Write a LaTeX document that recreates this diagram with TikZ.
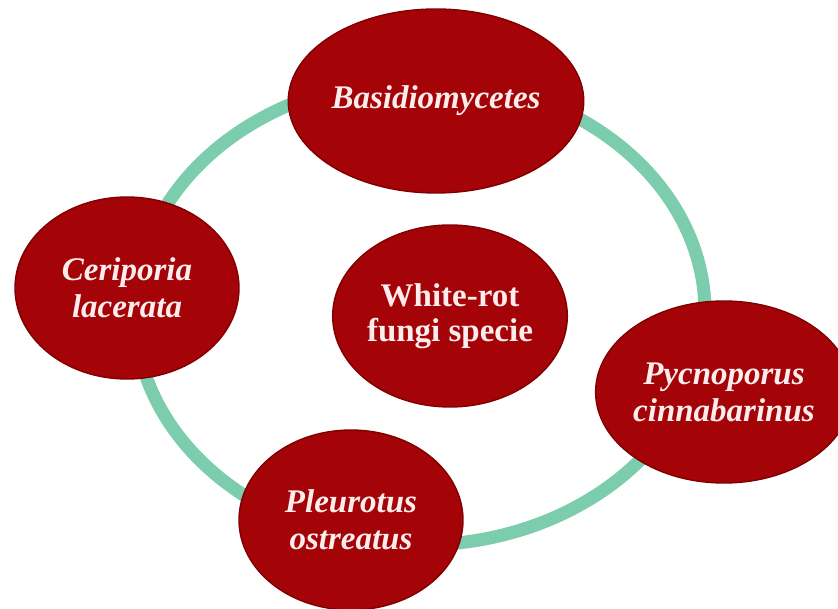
\documentclass[tikz,border=0pt]{standalone}
\usepackage{fontspec}
\setmainfont{Liberation Serif}
\usetikzlibrary{shapes.geometric}

\definecolor{ringgreen}{RGB}{124,205,174}
\definecolor{fungusred}{RGB}{164,4,8}
\definecolor{fungusedge}{RGB}{128,0,0}
\definecolor{labelpink}{RGB}{252,236,236}

\tikzset{
  fungus/.style={ellipse, draw=fungusedge, line width=1.4pt, fill=fungusred,
    inner sep=0pt, align=center, text=labelpink,
    font=\fontsize{33}{35}\selectfont\bfseries},
  species/.style={fungus, font=\fontsize{33}{37}\selectfont\bfseries\itshape},
  ring/.style={draw=ringgreen, line width=13pt}
}

\begin{document}
\begin{tikzpicture}[x=1pt,y=-1pt]
  \useasboundingbox (0,0) rectangle (838,609);

  % cycle linking the species
  \coordinate (hub) at (420,312);
  \draw[ring] (hub) ellipse [x radius=285, y radius=233];

  % species around the cycle
  \node[species, minimum width=286pt, minimum height=184pt] (basidio) at (436,101) {Basidiomycetes};
  \node[species, minimum width=224pt, minimum height=182pt] (ceriporia) at (127,288) {Ceriporia\\lacerata};
  \node[species, minimum width=232pt, minimum height=182pt] (pycno) at (724,392) {Pycnoporus\\cinnabarinus};
  \node[species, minimum width=224pt, minimum height=180pt] (pleurotus) at (351,520) {Pleurotus\\ostreatus};

  % central group
  \node[fungus, minimum width=222pt, minimum height=182pt] (whiterot) at (450,316) {White-rot\\fungi specie};
\end{tikzpicture}
\end{document}
